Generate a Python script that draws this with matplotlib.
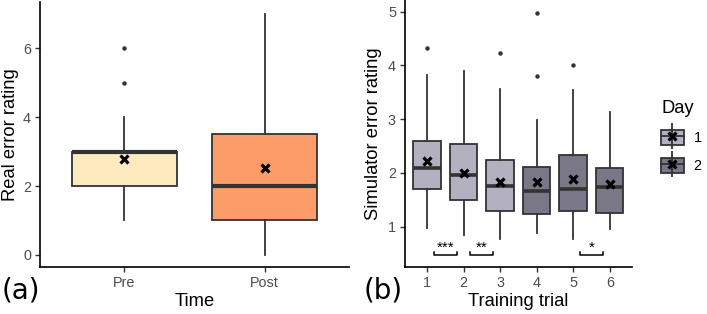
import matplotlib
matplotlib.use("Agg")
import matplotlib.pyplot as plt
from matplotlib.patches import Patch
from matplotlib.lines import Line2D
from matplotlib.legend_handler import HandlerTuple

plt.rcParams['font.family'] = ['Liberation Sans', 'DejaVu Sans']

# ---- panel (a) data: real error rating ----
time_labels = ['Pre', 'Post']
real_q1 = [2, 1]
real_med = [3, 2]
real_q3 = [3, 3.5]
real_wlo = [1, 0]
real_whi = [4, 7]
real_mean = [2.77, 2.53]
real_fliers = [[5, 6], []]
real_colors = ['#FDEBBF', '#FC9D69']

# ---- panel (b) data: simulator error rating ----
trials = [1, 2, 3, 4, 5, 6]
trial_day = [1, 1, 1, 2, 2, 2]
sim_q1 = [1.71, 1.50, 1.29, 1.23, 1.29, 1.25]
sim_med = [2.10, 1.96, 1.75, 1.66, 1.70, 1.73]
sim_q3 = [2.60, 2.54, 2.25, 2.11, 2.33, 2.09]
sim_wlo = [0.98, 0.84, 0.77, 0.89, 0.78, 0.95]
sim_whi = [3.83, 3.90, 3.57, 2.98, 3.54, 3.14]
sim_mean = [2.23, 2.00, 1.84, 1.84, 1.89, 1.79]
sim_fliers = [[4.32], [], [4.23], [3.80, 4.97], [4.01], []]
day_colors = {1: '#B3B1BF', 2: '#7A7786'}

# significance brackets (trial a, trial b, label)
sig_pairs = [(1, 2, '***'), (2, 3, '**'), (5, 6, '*')]
sig_y = 0.47

edge = '#333333'
tick_grey = '#4D4D4D'


def make_stats(q1, med, q3, wlo, whi, mean, fliers):
    out = []
    for i in range(len(q1)):
        out.append(dict(q1=q1[i], med=med[i], q3=q3[i], whislo=wlo[i],
                        whishi=whi[i], mean=mean[i], fliers=fliers[i]))
    return out


def draw_boxes(ax, stats, positions, colors, medlw):
    bp = ax.bxp(stats, positions=positions, widths=0.75, patch_artist=True,
                showmeans=True, showcaps=False,
                boxprops=dict(edgecolor=edge, linewidth=1.3),
                whiskerprops=dict(color=edge, linewidth=1.3),
                medianprops=dict(color=edge, linewidth=medlw, solid_capstyle='butt'),
                meanprops=dict(marker='x', markeredgecolor='black', markersize=6,
                               markeredgewidth=2.3),
                flierprops=dict(marker='o', markerfacecolor=edge, markeredgecolor=edge,
                                markersize=2.2))
    for patch, c in zip(bp['boxes'], colors):
        patch.set_facecolor(c)
    return bp


def style_axes(ax):
    for s in ['top', 'right']:
        ax.spines[s].set_visible(False)
    for s in ['left', 'bottom']:
        ax.spines[s].set_linewidth(1.2)
        ax.spines[s].set_color('black')
    ax.tick_params(axis='both', length=3.5, width=1.0, color='#333333',
                   labelcolor=tick_grey, labelsize=10.4, pad=3)


fig = plt.figure(figsize=(7.07, 3.14), dpi=100)

# ---- panel (a) ----
ax1 = fig.add_axes([40 / 707, 47 / 314, 309 / 707, 265.4 / 314])
pos1 = list(range(1, len(time_labels) + 1))
draw_boxes(ax1, make_stats(real_q1, real_med, real_q3, real_wlo, real_whi,
                           real_mean, real_fliers), pos1, real_colors, 3.0)
ax1.set_xlim(0.4, 2.6)
ax1.set_ylim(-0.35, 7.35)
ax1.set_yticks([0, 2, 4, 6])
ax1.set_xticks(pos1)
ax1.set_xticklabels(time_labels)
style_axes(ax1)
ax1.set_ylabel('Real error rating', fontsize=13.2)
ax1.set_xlabel('Time', fontsize=13.2, labelpad=2)
ax1.yaxis.set_label_coords(-0.068, 0.5)

# ---- panel (b) ----
ax2 = fig.add_axes([405 / 707, 47.3 / 314, 226.7 / 707, 266.7 / 314])
draw_boxes(ax2, make_stats(sim_q1, sim_med, sim_q3, sim_wlo, sim_whi,
                           sim_mean, sim_fliers), trials,
           [day_colors[d] for d in trial_day], 2.6)
for a, b, lab in sig_pairs:
    x0, x1 = a + 0.18, b - 0.18
    ax2.plot([x0, x0, x1, x1], [sig_y + 0.06, sig_y, sig_y, sig_y + 0.06],
             color='black', lw=1.1)
    ax2.text((a + b) / 2, sig_y + 0.01, lab, ha='center', va='bottom', fontsize=11)
ax2.set_xlim(0.4, 6.6)
ax2.set_ylim(0.256, 5.218)
ax2.set_yticks([1, 2, 3, 4, 5])
ax2.set_xticks(trials)
style_axes(ax2)
ax2.set_ylabel('Simulator error rating', fontsize=13.2)
ax2.set_xlabel('Training trial', fontsize=13.2, labelpad=2)
ax2.yaxis.set_label_coords(-0.101, 0.5)

# legend
handles = []
for d in sorted(day_colors):
    handles.append((Patch(facecolor=day_colors[d], edgecolor=edge, linewidth=1.3),
                    Line2D([], [], marker='|', color=edge, markersize=19,
                           markeredgewidth=1.3, linestyle='none'),
                    Line2D([], [], color=edge, lw=1.3),
                    Line2D([], [], marker='x', color='black', markersize=6,
                           markeredgewidth=2.3, linestyle='none')))
fig.legend(handles, [str(d) for d in sorted(day_colors)], title='Day',
           handler_map={tuple: HandlerTuple(ndivide=1, pad=0)},
           loc='upper left', bbox_to_anchor=(654 / 707, 1 - 93 / 314),
           frameon=False, fontsize=10.4, title_fontsize=13.2, borderpad=0,
           handlelength=1.55, handleheight=1.3, labelspacing=0.85,
           handletextpad=0.7, alignment='left')

fig.text(2 / 707, 1 - 291 / 314, '(a)', fontsize=20, va='center', ha='left',
         family='DejaVu Sans')
fig.text(364 / 707, 1 - 291 / 314, '(b)', fontsize=20, va='center', ha='left',
         family='DejaVu Sans')

fig.savefig('out.png', dpi=100)
